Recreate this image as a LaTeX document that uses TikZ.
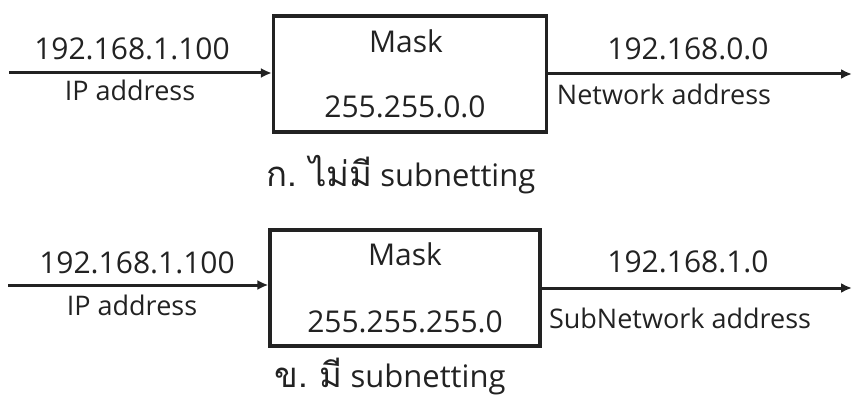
\documentclass[tikz,border=0pt]{standalone}
\usepackage{fontspec}
\setmainfont{Open Sans}
\newfontfamily\thaifont[Script=Thai,Scale=1.12]{Loma}
\usetikzlibrary{arrows.meta}
\definecolor{ink}{HTML}{222222}
\tikzset{
  maskbox/.style={draw=ink, line width=3.2pt, inner sep=0pt},
  flow/.style={draw=ink, line width=3pt, -{Latex[length=11pt,width=10pt]}},
  num/.style={anchor=base, inner sep=0pt, text=ink, font=\fontsize{30}{34}\selectfont},
  lbl/.style={anchor=base, inner sep=0pt, text=ink, font=\fontsize{27}{31}\selectfont},
  capt/.style={anchor=base, inner sep=0pt, text=ink, font=\fontsize{31}{35}\selectfont},
}
\begin{document}
\begin{tikzpicture}[x=1pt,y=-1pt]
\useasboundingbox (0,0) rectangle (854,401);
% ---- top ----
\node[maskbox, minimum width=273pt, minimum height=116pt] (boxA) at (410,74) {};
\coordinate (inA) at (9,73);
\coordinate (outA) at (852,74);
\draw[flow] (inA) -- (inA -| boxA.west);
\draw[flow] (boxA.east) -- (outA);
\node[num] (ipA) at (132,60) {192.168.1.100};
\node[lbl] (ipAl) at (130,101) {IP address};
\node[num] (maskA) at (406,53) {Mask};
\node[num] (mA) at (405,118) {255.255.0.0};
\node[num] (netA) at (688,60) {192.168.0.0};
\node[lbl] (netAl) at (664,105) {Network address};
\node[capt] (captA) at (401,186) {{\thaifont ก.\ ไม่มี} subnetting};
% ---- bottom ----
\node[maskbox, minimum width=270pt, minimum height=116pt] (boxB) at (405,288) {};
\coordinate (inB) at (8,285);
\coordinate (outB) at (852,288);
\draw[flow] (inB) -- (inB -| boxB.west);
\draw[flow] (boxB.east) -- (outB);
\node[num] (ipB) at (137,273) {192.168.1.100};
\node[lbl] (ipBl) at (132,315) {IP address};
\node[num] (maskB) at (405,265) {Mask};
\node[num] (mB) at (405,332) {255.255.255.0};
\node[num] (netB) at (688,272) {192.168.1.0};
\node[lbl] (netBl) at (680,328) {SubNetwork address};
\node[capt] (captB) at (390,387) {\raisebox{0pt}[\height][0pt]{{\thaifont ข.\ มี} subnetting}};
\end{tikzpicture}
\end{document}
